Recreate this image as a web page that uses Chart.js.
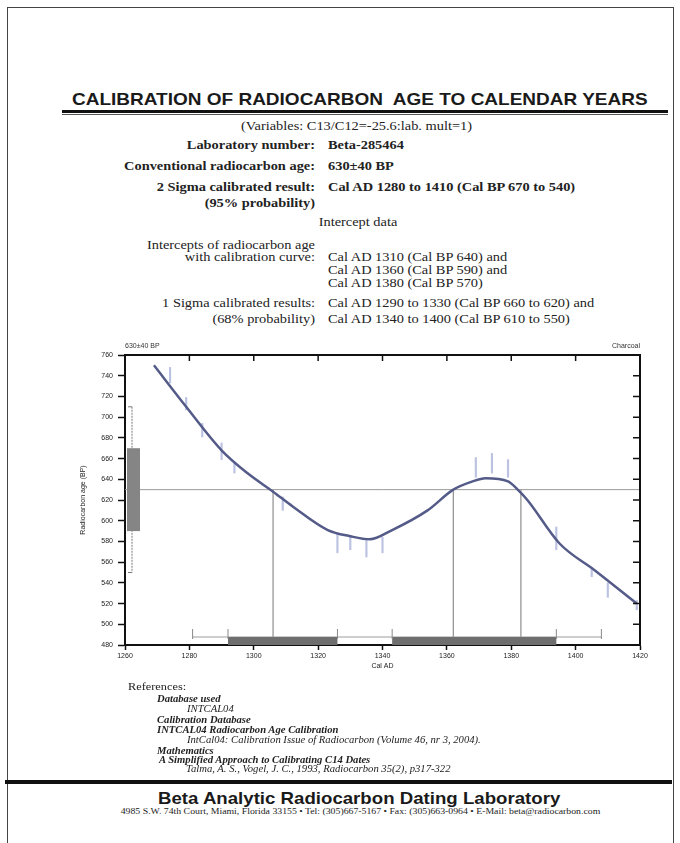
<!DOCTYPE html>
<html>
<head>
<meta charset="utf-8">
<script src="https://cdn.jsdelivr.net/npm/chart.js@4.4.1/dist/chart.umd.min.js"></script>
<style>
  html, body { margin: 0; padding: 0; background: #fff; }
  body { width: 680px; height: 843px; position: relative; overflow: hidden; color: #222; }
  .frame { position: absolute; left: 7px; top: 7px; width: 665px; height: 900px; border: 1px solid #444; }
  .abs { position: absolute; white-space: nowrap; }
  .serif { font-family: "Liberation Serif", "DejaVu Serif", serif; font-size: 12.5px; line-height: 14px; transform: scaleX(1.15); }
  .lbl { left: 0; width: 315px; text-align: right; transform-origin: right center; }
  .val { left: 328px; transform-origin: left center; }
  .mid { left: 0; text-align: center; transform-origin: center center; }
  .b { font-weight: bold; }
  .ref { font-family: "Liberation Serif", serif; font-size: 9.5px; line-height: 10px; transform: scaleX(1.12); transform-origin: left center; }
  .bi { font-weight: bold; font-style: italic; }
  .it { font-style: italic; }
  .rule { position: absolute; background: #111; }
  .head { font-family: 'Liberation Sans', Arial, sans-serif; font-weight: bold; font-size: 16.3px; line-height: 16.3px; color: #1a1a1a; transform-origin: left center; }
  #chartBox { position: absolute; left: 0; top: 330px; width: 680px; height: 360px; }
</style>
</head>
<body>
<div class="frame"></div>

<div class="abs head" style="left:72px;top:91px;transform:scaleX(1.167);">CALIBRATION OF RADIOCARBON&nbsp; AGE TO CALENDAR YEARS</div>
<div class="rule" style="left:62px;top:110px;width:606px;height:3px;"></div>
<div class="rule" style="left:62px;top:114px;width:606px;height:1px;background:#555;"></div>

<div class="abs serif mid" style="width:713px;top:119px;">(Variables: C13/C12=-25.6:lab. mult=1)</div>

<div class="abs serif b lbl" style="top:138px;">Laboratory number:</div>
<div class="abs serif b val" style="top:138px;">Beta-285464</div>
<div class="abs serif b lbl" style="top:159px;">Conventional radiocarbon age:</div>
<div class="abs serif b val" style="top:159px;">630±40 BP</div>
<div class="abs serif b lbl" style="top:180px;">2 Sigma calibrated result:</div>
<div class="abs serif b val" style="top:180px;">Cal AD 1280 to 1410 (Cal BP 670 to 540)</div>
<div class="abs serif b lbl" style="top:196px;">(95% probability)</div>

<div class="abs serif mid" style="width:716px;top:215px;">Intercept data</div>

<div class="abs serif lbl" style="top:238px;">Intercepts of radiocarbon age</div>
<div class="abs serif lbl" style="top:250px;">with calibration curve:</div>
<div class="abs serif val" style="top:250px;">Cal AD 1310 (Cal BP 640) and</div>
<div class="abs serif val" style="top:263px;">Cal AD 1360 (Cal BP 590) and</div>
<div class="abs serif val" style="top:276px;">Cal AD 1380 (Cal BP 570)</div>

<div class="abs serif lbl" style="top:296px;">1 Sigma calibrated results:</div>
<div class="abs serif val" style="top:296px;">Cal AD 1290 to 1330 (Cal BP 660 to 620) and</div>
<div class="abs serif lbl" style="top:312px;">(68% probability)</div>
<div class="abs serif val" style="top:312px;">Cal AD 1340 to 1400 (Cal BP 610 to 550)</div>

<div id="chartBox"><canvas id="calChart" width="680" height="360"></canvas></div>

<div class="abs ref" style="left:128px;top:681px;font-size:11px;">References:</div>
<div class="abs ref bi" style="left:157px;top:694px;">Database used</div>
<div class="abs ref it" style="left:187px;top:704px;">INTCAL04</div>
<div class="abs ref bi" style="left:157px;top:715px;">Calibration Database</div>
<div class="abs ref bi" style="left:157px;top:725px;">INTCAL04 Radiocarbon Age Calibration</div>
<div class="abs ref it" style="left:187px;top:735px;">IntCal04: Calibration Issue of Radiocarbon (Volume 46, nr 3, 2004).</div>
<div class="abs ref bi" style="left:157px;top:746px;">Mathematics</div>
<div class="abs ref bi" style="left:159px;top:755px;">A Simplified Approach to Calibrating C14 Dates</div>
<div class="abs ref it" style="left:186px;top:764px;">Talma, A. S., Vogel, J. C., 1993, Radiocarbon 35(2), p317-322</div>

<div class="rule" style="left:5px;top:780px;width:667px;height:4px;"></div>
<div class="abs head" style="left:158px;top:790px;transform:scaleX(1.145);">Beta Analytic Radiocarbon Dating Laboratory</div>
<div class="abs mid" style="width:721px;top:806px;font-family:'Liberation Serif',serif;font-size:8.5px;line-height:10px;transform:scaleX(1.15);">4985 S.W. 74th Court, Miami, Florida 33155 • Tel: (305)667-5167 • Fax: (305)663-0964 • E-Mail: beta@radiocarbon.com</div>

<script>
// calibration curve (Cal AD, radiocarbon BP)
const curveYears = [1269, 1279, 1290, 1298, 1306, 1312, 1323, 1330, 1336, 1343, 1354, 1362, 1368, 1372, 1379, 1382, 1385, 1395, 1406, 1419];
const curveAges  = [750, 710, 668, 646, 628, 614, 591, 585, 582, 591, 610, 630, 638, 641, 638, 630, 620, 578, 552, 520];

// faint data points with error bars
const pointYears = [1274, 1279, 1284, 1290, 1294, 1309, 1326, 1330, 1335, 1340, 1369, 1374, 1379, 1394, 1405, 1410, 1419];
const pointLow   = [733, 707, 681, 659, 646, 610, 569, 572, 565, 569, 642, 646, 642, 572, 546, 526, 514];
const pointHigh  = [748, 719, 694, 675, 656, 623, 588, 584, 581, 584, 661, 665, 659, 594, 555, 540, 523];

// sample
const convAge = 630;
const sigma = 40;
const interceptYears = [1306, 1362, 1383];
const sigma2Range = [1281, 1408];
const sigma1Ranges = [[1292, 1326], [1343, 1394]];

// axes
const yearMin = 1260, yearMax = 1420, yearStep = 20;
const ageMin = 480, ageMax = 760, ageStep = 20;
const topLeftLabel = '630±40 BP';
const topRightLabel = 'Charcoal';

const datasets = [
    {
        type: 'bar',
        data: pointYears.map((yr, i) => ({ x: yr, y: [pointLow[i], pointHigh[i]] })),
        backgroundColor: '#bcc2e2',
        barThickness: 1.5,
        order: 3
    },
    {
        data: [{ x: yearMin, y: convAge }, { x: yearMax, y: convAge }],
        borderColor: '#9a9a9a',
        borderWidth: 1,
        pointRadius: 0,
        order: 2
    },
    ...interceptYears.map(yr => ({
        data: [{ x: yr, y: convAge }, { x: yr, y: ageMin }],
        borderColor: '#8f8f8f',
        borderWidth: 1.2,
        pointRadius: 0,
        order: 2
    })),
    {
        data: curveYears.map((yr, i) => ({ x: yr, y: curveAges[i] })),
        borderColor: '#545b88',
        borderWidth: 2.5,
        pointRadius: 0,
        cubicInterpolationMode: 'monotone',
        order: 1
    }
];

const sigmaMarks = {
    id: 'sigmaMarks',
    afterDatasetsDraw(chart) {
        const { ctx, chartArea: a, scales: { x, y } } = chart;
        ctx.save();
        // 2 sigma bracket on the age axis
        const bx = a.left + 7;
        const top2 = y.getPixelForValue(convAge + 2 * sigma);
        const bot2 = y.getPixelForValue(convAge - 2 * sigma);
        ctx.strokeStyle = '#7a7a7a';
        ctx.lineWidth = 1;
        ctx.setLineDash([2, 1]);
        ctx.beginPath();
        ctx.moveTo(bx, top2); ctx.lineTo(bx, bot2);
        ctx.stroke();
        ctx.setLineDash([]);
        ctx.beginPath();
        ctx.moveTo(bx - 4, top2); ctx.lineTo(bx, top2);
        ctx.moveTo(bx - 4, bot2); ctx.lineTo(bx, bot2);
        ctx.stroke();
        // 1 sigma box
        const top1 = y.getPixelForValue(convAge + sigma);
        const bot1 = y.getPixelForValue(convAge - sigma);
        ctx.fillStyle = '#858585';
        ctx.fillRect(a.left + 2, top1, 13, bot1 - top1);

        // calendar ranges along the bottom
        const ly = a.bottom - 8;
        ctx.strokeStyle = '#9c9c9c';
        ctx.beginPath();
        ctx.moveTo(x.getPixelForValue(sigma2Range[0]), ly);
        ctx.lineTo(x.getPixelForValue(sigma2Range[1]), ly);
        ctx.stroke();
        ctx.fillStyle = '#6e6e6e';
        sigma1Ranges.forEach(r => {
            const x0 = x.getPixelForValue(r[0]);
            const x1 = x.getPixelForValue(r[1]);
            ctx.fillRect(x0, a.bottom - 8, x1 - x0, 8);
        });
        ctx.strokeStyle = '#888';
        ctx.beginPath();
        [sigma2Range[0], sigma2Range[1], ...sigma1Ranges.flat()].forEach(v => {
            const px = x.getPixelForValue(v);
            ctx.moveTo(px, ly - 8); ctx.lineTo(px, ly + 2);
        });
        ctx.stroke();
        ctx.restore();
    },
    afterDraw(chart) {
        const { ctx, chartArea: a, scales: { x, y } } = chart;
        ctx.save();
        ctx.strokeStyle = '#111';
        ctx.lineWidth = 2;
        ctx.beginPath();
        ctx.moveTo(a.left, a.top); ctx.lineTo(a.right, a.top); ctx.lineTo(a.right, a.bottom);
        ctx.stroke();
        // inward ticks on top and right
        ctx.lineWidth = 1.5;
        ctx.beginPath();
        x.ticks.forEach(t => {
            const px = x.getPixelForValue(t.value);
            ctx.moveTo(px, a.top); ctx.lineTo(px, a.top + 6);
        });
        y.ticks.forEach(t => {
            const py = y.getPixelForValue(t.value);
            ctx.moveTo(a.right, py); ctx.lineTo(a.right - 7, py);
        });
        ctx.stroke();
        ctx.fillStyle = '#333';
        ctx.font = '7px "Liberation Sans", Arial, sans-serif';
        ctx.textBaseline = 'bottom';
        ctx.textAlign = 'left';
        ctx.fillText(topLeftLabel, a.left, a.top - 5);
        ctx.textAlign = 'right';
        ctx.fillText(topRightLabel, a.right, a.top - 5);
        ctx.restore();
    }
};

const tickFont = { family: '"Liberation Sans", Arial, sans-serif', size: 7 };

new Chart(document.getElementById('calChart'), {
    type: 'line',
    data: { datasets: datasets },
    options: {
        responsive: false,
        animation: false,
        devicePixelRatio: 1,
        layout: { padding: { top: 25, right: 40, left: 0, bottom: 0 } },
        plugins: { legend: { display: false }, tooltip: { enabled: false } },
        scales: {
            x: {
                type: 'linear',
                min: yearMin,
                max: yearMax,
                offset: false,
                ticks: { stepSize: yearStep, font: tickFont, color: '#222', padding: 2, maxRotation: 0, callback: v => String(v) },
                grid: { drawOnChartArea: false, tickLength: 5, color: '#111', tickWidth: 1.5, offset: false },
                border: { color: '#111', width: 2 },
                title: { display: true, text: 'Cal AD', font: tickFont, color: '#222', padding: { top: 0, bottom: 20 } },
                afterFit: s => { s.height = 45; }
            },
            y: {
                type: 'linear',
                min: ageMin,
                max: ageMax,
                ticks: { stepSize: ageStep, font: tickFont, color: '#222', padding: 5, callback: v => String(v) },
                grid: { drawOnChartArea: false, tickLength: 7, color: '#111', tickWidth: 1.5 },
                border: { color: '#111', width: 2 },
                title: { display: true, text: 'Radiocarbon age (BP)', font: tickFont, color: '#222', padding: { top: 79, bottom: 0 } },
                afterFit: s => { s.width = 125; }
            }
        }
    },
    plugins: [sigmaMarks]
});
</script>
</body>
</html>
